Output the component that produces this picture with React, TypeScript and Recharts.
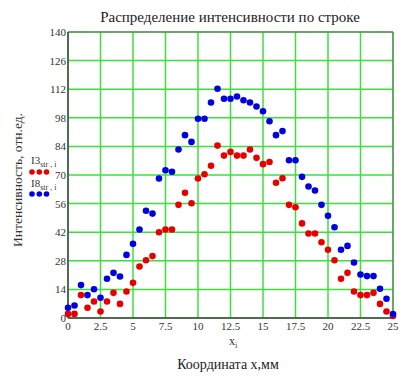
import React from "react";
import { ScatterChart, Scatter, XAxis, YAxis, CartesianGrid, ReferenceLine } from "recharts";

const xs = [0, 0.5, 1, 1.5, 2, 2.5, 3, 3.5, 4, 4.5, 5, 5.5, 6, 6.5, 7, 7.5, 8, 8.5, 9, 9.5, 10, 10.5, 11, 11.5, 12, 12.5, 13, 13.5, 14, 14.5, 15, 15.5, 16, 16.5, 17, 17.5, 18, 18.5, 19, 19.5, 20, 20.5, 21, 21.5, 22, 22.5, 23, 23.5, 24, 24.5, 25];

const i3 = [2.0, 2.0, 11.2, 5.0, 8.1, 3.2, 8.1, 12.3, 6.9, 13.0, 17.2, 25.2, 28.3, 30.3, 42.0, 43.3, 43.3, 55.4, 61.3, 56.2, 68.3, 70.4, 74.5, 84.4, 79.5, 81.3, 79.5, 79.5, 82.5, 78.4, 75.3, 76.4, 66.2, 68.4, 55.4, 54.2, 46.3, 41.4, 41.4, 37.1, 33.4, 28.3, 19.2, 22.1, 13.0, 11.2, 11.2, 12.3, 6.9, 3.2, 1.0];

const i8 = [5.0, 6.1, 16.1, 11.2, 14.1, 9.9, 19.2, 22.1, 20.3, 30.9, 36.3, 43.3, 52.5, 51.1, 68.3, 72.3, 71.6, 82.5, 89.5, 86.2, 97.5, 97.5, 105.5, 112.2, 107.3, 107.3, 108.4, 106.6, 105.5, 103.5, 101.2, 96.3, 89.5, 91.5, 77.2, 77.2, 69.1, 64.4, 62.4, 55.4, 50.0, 44.4, 33.4, 35.3, 27.2, 21.3, 20.5, 20.5, 14.3, 9.4, 1.9];

const xTicks = [0, 2.5, 5, 7.5, 10, 12.5, 15, 17.5, 20, 22.5, 25];
const yTicks = [0, 14, 28, 42, 56, 70, 84, 98, 112, 126, 140];

const title = "Распределение интенсивности по строке";
const yLabel = "Интенсивность, отн.ед.";
const xLabel = "Координата x,мм";

const RED = "#e60000";
const BLUE = "#0000e0";
const FONT = "'Liberation Serif', 'DejaVu Serif', serif";

const redData = xs.map((x, i) => ({ x, y: i3[i] }));
const blueData = xs.map((x, i) => ({ x, y: i8[i] }));

const dot = (color: string) => (props: any) => (
  <circle cx={props.cx} cy={props.cy} r={3.3} fill={color} />
);

const tickStyle = { fontFamily: FONT, fontSize: 11, fill: "#333" };

export default function App() {
  return (
    <div style={{ position: "absolute", left: 0, top: 0, width: 415, height: 379, background: "#fff", fontFamily: FONT }}>
      <ScatterChart width={415} height={379} margin={{ top: 32, right: 22, bottom: 0, left: 0 }}>
        <CartesianGrid stroke="#3ddf3d" strokeWidth={1.5} />
        <XAxis
          type="number"
          dataKey="x"
          domain={[0, 25]}
          ticks={xTicks}
          interval={0}
          height={61}
          tickSize={0}
          tickMargin={4}
          tick={tickStyle}
          axisLine={{ stroke: "#444", strokeWidth: 1.5 }}
        />
        <YAxis
          type="number"
          dataKey="y"
          domain={[0, 140]}
          ticks={yTicks}
          interval={0}
          width={68}
          tickSize={0}
          tickMargin={2}
          tick={tickStyle}
          axisLine={{ stroke: "#444", strokeWidth: 1.5 }}
        />
        <ReferenceLine y={140} stroke="#666" strokeWidth={1} />
        <ReferenceLine x={25} stroke="#666" strokeWidth={1} />
        <Scatter data={redData} fill={RED} shape={dot(RED)} isAnimationActive={false} />
        <Scatter data={blueData} fill={BLUE} shape={dot(BLUE)} isAnimationActive={false} />
      </ScatterChart>

      <div style={{ position: "absolute", left: 230, top: 8, transform: "translateX(-50%)", whiteSpace: "nowrap", fontSize: 15, color: "#222", lineHeight: "18px" }}>
        {title}
      </div>

      <div style={{ position: "absolute", left: 18, top: 180, transform: "translate(-50%, -50%) rotate(-90deg)", whiteSpace: "nowrap", fontSize: 13.5, color: "#333", lineHeight: "16px" }}>
        {yLabel}
      </div>

      <div style={{ position: "absolute", left: 228, top: 356, transform: "translateX(-50%)", whiteSpace: "nowrap", fontSize: 14, color: "#222", lineHeight: "18px" }}>
        {xLabel}
      </div>

      <div style={{ position: "absolute", left: 229, top: 334, whiteSpace: "nowrap", fontSize: 12, color: "#333", lineHeight: "14px" }}>
        x<sub style={{ fontSize: 8 }}>i</sub>
      </div>

      <div style={{ position: "absolute", left: 31, top: 154, whiteSpace: "nowrap", fontSize: 11, color: "#333", lineHeight: "13px" }}>
        I3<sub style={{ fontSize: 8 }}>str , i</sub>
      </div>
      <div style={{ position: "absolute", left: 31, top: 177, whiteSpace: "nowrap", fontSize: 11, color: "#333", lineHeight: "13px" }}>
        I8<sub style={{ fontSize: 8 }}>str , i</sub>
      </div>
      <svg style={{ position: "absolute", left: 0, top: 0 }} width={60} height={200}>
        <circle cx={32} cy={172} r={2.8} fill={RED} />
        <circle cx={39.3} cy={172} r={2.8} fill={RED} />
        <circle cx={46.5} cy={172} r={2.8} fill={RED} />
        <circle cx={32} cy={194} r={2.8} fill={BLUE} />
        <circle cx={39.3} cy={194} r={2.8} fill={BLUE} />
        <circle cx={46.5} cy={194} r={2.8} fill={BLUE} />
      </svg>
    </div>
  );
}
